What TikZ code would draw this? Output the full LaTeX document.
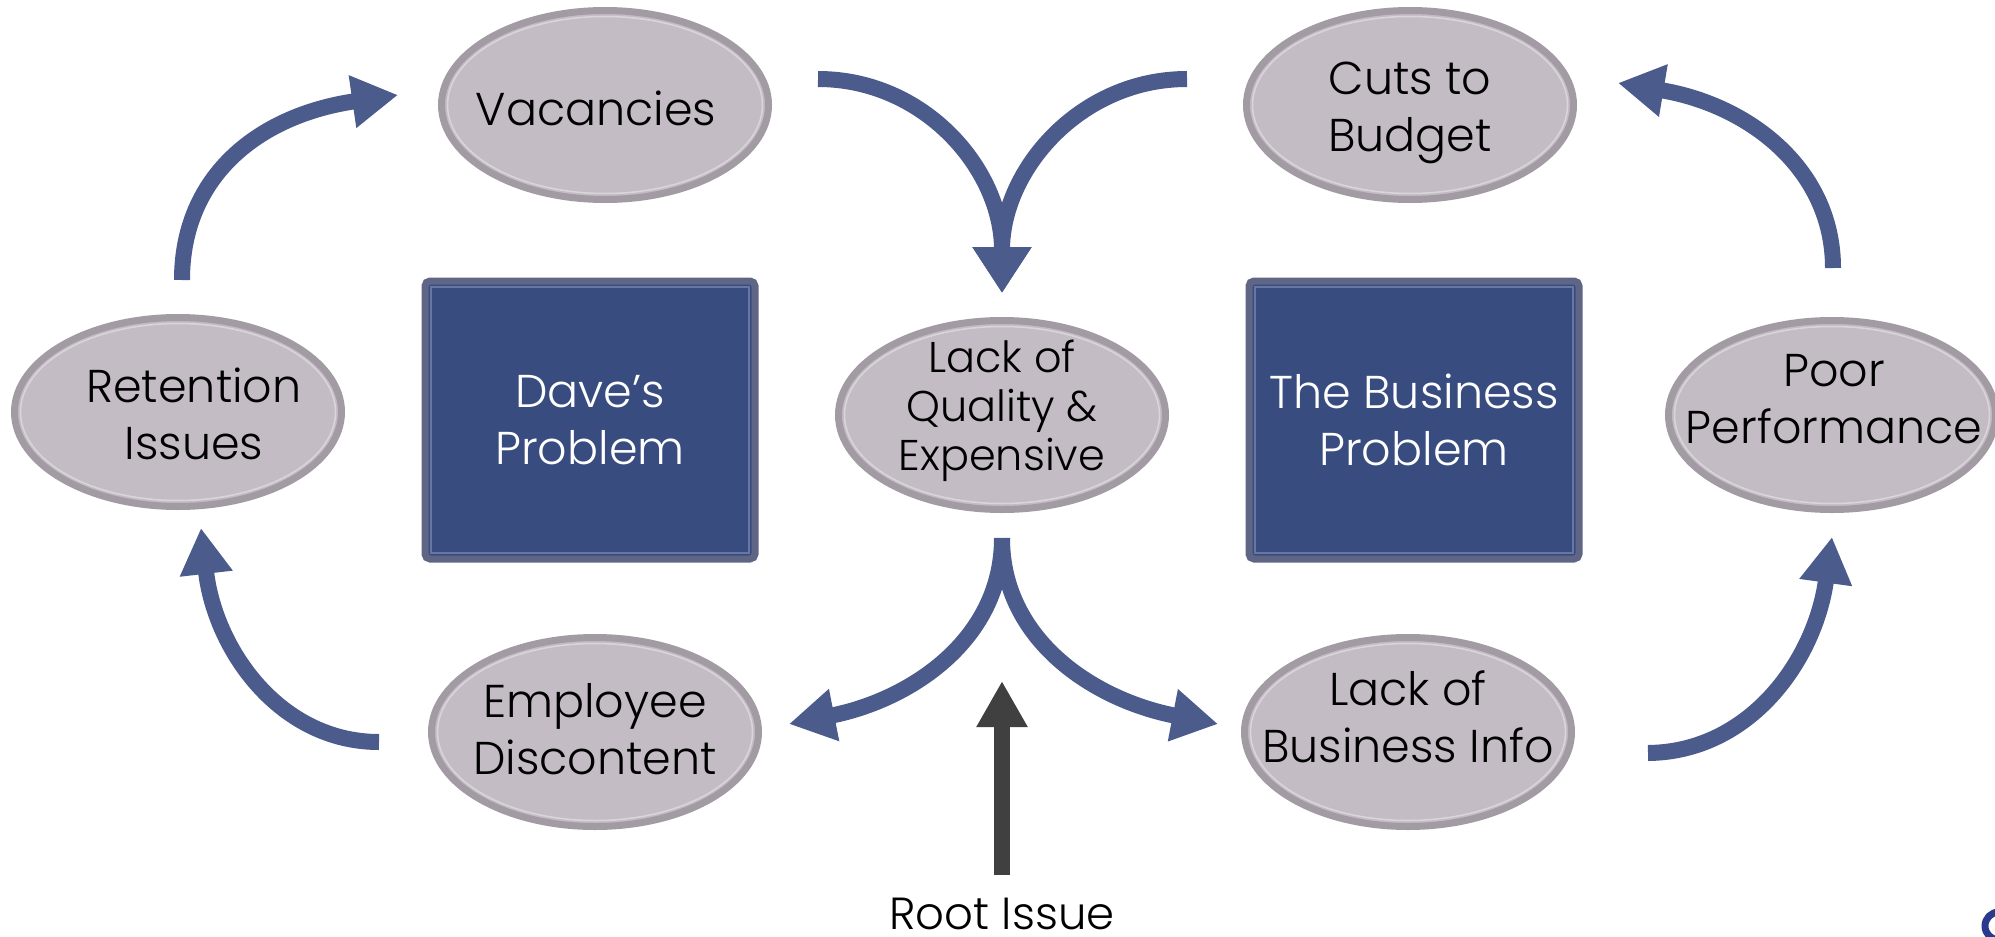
\documentclass[tikz,border=0pt]{standalone}
\usepackage{fontspec}
\setmainfont{Poppins Light}
\usetikzlibrary{arrows.meta,shapes.geometric}
\definecolor{ovalfill}{HTML}{C4BCC5}
\definecolor{ovaledge}{HTML}{A29BA3}
\definecolor{ovalline}{HTML}{DAD5DB}
\definecolor{boxfill}{HTML}{384C80}
\definecolor{boxedge}{HTML}{5E6585}
\definecolor{boxline}{HTML}{6777A3}
\definecolor{arrowblue}{HTML}{4A5B8C}
\definecolor{rootgray}{HTML}{404040}
\definecolor{logoblue}{HTML}{2B3A8C}
\begin{document}
\begin{tikzpicture}[x=1pt,y=-1pt,
  oval/.style={ellipse, draw=ovaledge, line width=7pt, fill=ovalfill,
    minimum width=327pt, minimum height=189pt, inner sep=0pt, outer sep=0pt,
    path picture={\draw[ovalinner] (path picture bounding box.center) ellipse [x radius=157.5pt, y radius=88.5pt];}},
  ovalinner/.style={draw=ovalline, line width=1.5pt},
  ovaltext/.style={align=center, inner sep=0pt, font=\fontsize{46}{57}\selectfont},
  prob/.style={rectangle, rounded corners=5pt, draw=boxedge, line width=7pt, fill=boxfill,
    minimum width=330pt, minimum height=278pt, inner sep=0pt, outer sep=0pt,
    align=center, text=white, font=\fontsize{46}{57}\selectfont,
    path picture={\draw[probinner] ([shift={(6pt,-6pt)}]path picture bounding box.north west) rectangle ([shift={(-6pt,6pt)}]path picture bounding box.south east);}},
  probinner/.style={draw=boxline, line width=1.5pt, sharp corners},
  flow/.style={draw=arrowblue, line width=16pt, -{Triangle[width=50pt,length=46pt]}},
  flowwide/.style={flow, -{Triangle[width=56pt,length=46pt]}},
  rootarrow/.style={draw=rootgray, line width=16pt, -{Triangle[width=48pt,length=46pt]}},
  lbl/.style={font=\fontsize{45}{52}\selectfont, inner sep=0pt}
]
\useasboundingbox (0,0) rectangle (1995,937);

% ovals
\node[oval] (vac) at (605,105) {};
\node[oval] (cuts) at (1410,105) {};
\node[oval] (qual) at (1002,415) {};
\node[oval] (ret) at (178,412) {};
\node[oval] (poor) at (1832,415) {};
\node[oval] (emp) at (595,732) {};
\node[oval] (info) at (1408,732) {};

% oval texts
\node[ovaltext] (vactext) at ([shift={(-9,3)}]vac.center) {Vacancies};
\node[ovaltext] (cutstext) at ([shift={(0,8)}]cuts.center) {Cuts to\\Budget};
\node[ovaltext, font=\fontsize{43}{49}\selectfont] (qualtext) at ([shift={(0,-4)}]qual.center) {Lack of\\Quality \&\\Expensive};
\node[ovaltext] (rettext) at ([shift={(16,2)}]ret.center) {Retention\\Issues};
\node[ovaltext] (poortext) at ([shift={(2,-16)}]poor.center) {Poor\\Performance};
\node[ovaltext] (emptext) at ([shift={(0,-3)}]emp.center) {Employee\\Discontent};
\node[ovaltext] (infotext) at ([shift={(0,-15)}]info.center) {Lack of\\Business Info};

% problem boxes
\node[prob] (dave) at (590,420) {Dave’s\\Problem};
\node[prob] (biz) at (1414,420) {The Business\\Problem};

% connector end points
\coordinate (retout) at (182,280);
\coordinate (vacin) at (398,95);
\coordinate (vacout) at (818,79);
\coordinate (qualin) at (1002,293);
\coordinate (cutsout) at (1187,79);
\coordinate (poorout) at (1833,268);
\coordinate (cutsin) at (1618,83);
\coordinate (qualout) at (1002,538);
\coordinate (empin) at (789,724);
\coordinate (infoin) at (1218,724);
\coordinate (empout) at (379,742);
\coordinate (retin) at (201,528);
\coordinate (infoout) at (1648,753);
\coordinate (poorin) at (1832,537);
\coordinate (rootbase) at (1002,875);
\coordinate (roottip) at (1002,681);

% flows
\draw[flow] (retout) .. controls (182,175) and (260,115) .. (vacin);
\draw[flowwide] (vacout) .. controls (925,79) and (1002,170) .. (qualin);
\draw[flowwide] (cutsout) .. controls (1080,79) and (1002,170) .. (qualin);
\draw[flow] (poorout) .. controls (1833,170) and (1750,105) .. (cutsin);
\draw[flow] (qualout) .. controls (1002,640) and (910,700) .. (empin);
\draw[flow] (qualout) .. controls (1002,640) and (1094,700) .. (infoin);
\draw[flow] (empout) .. controls (280,742) and (215,650) .. (retin);
\draw[flow] (infoout) .. controls (1750,752) and (1815,660) .. (poorin);

% root issue
\draw[rootarrow] (rootbase) -- (roottip);
\node[lbl, anchor=base] (rootlbl) at (1002,929) {Root Issue};

% logo fragment
\draw[logoblue, line width=7pt] (1999,926) circle [radius=14];
\end{tikzpicture}
\end{document}
